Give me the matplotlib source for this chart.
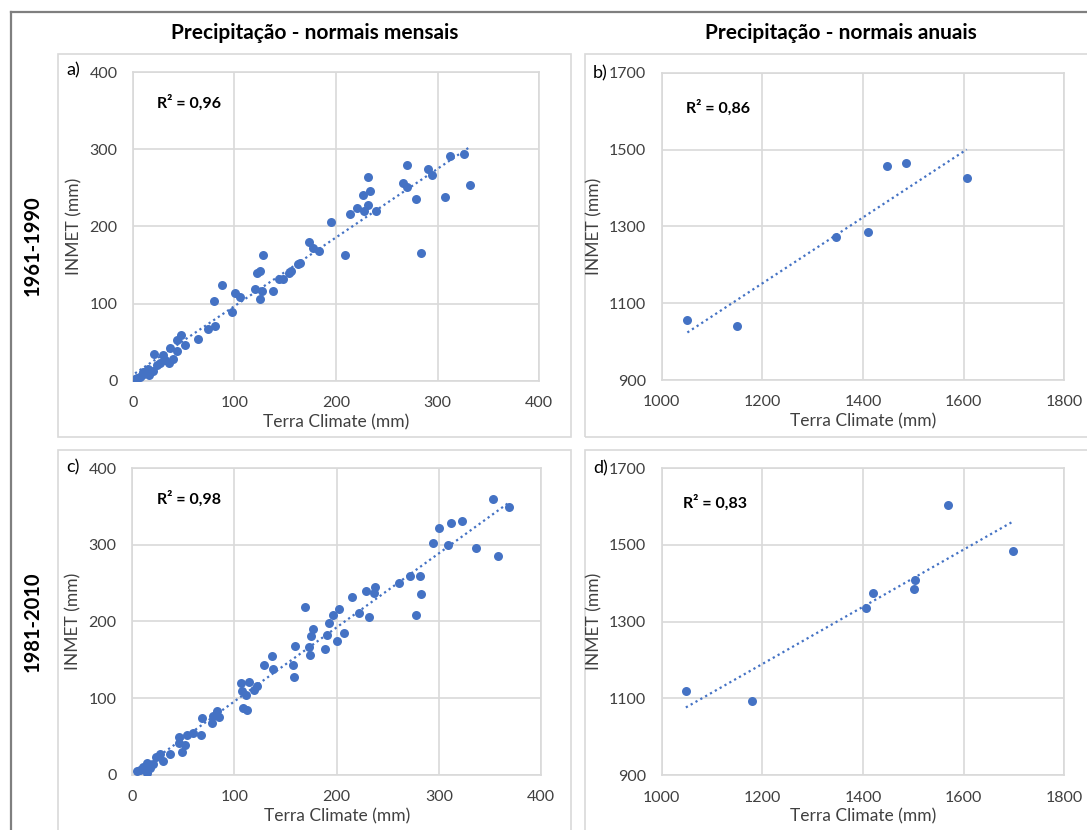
import numpy as np
import matplotlib
matplotlib.use("Agg")
import matplotlib.pyplot as plt
from matplotlib.patches import Rectangle
from matplotlib.lines import Line2D

plt.rcParams['font.family'] = ['Lato', 'DejaVu Sans']

# dados (mm)
tc_mensal_6190 = [325.8, 312.4, 332.0, 270.0, 290.2, 294.1, 231.4, 266.0, 270.0, 233.3,
                  226.8, 307.2, 278.4, 231.4, 220.3, 213.7, 227.5, 239.2, 195.4, 208.5,
                  283.7, 173.9, 177.8, 183.7, 164.7, 162.7, 155.6, 154.2, 147.7, 144.4,
                  128.1, 122.2, 124.8, 120.3, 126.8, 124.8, 137.9, 100.7, 105.2, 88.2,
                  79.7, 97.4, 81.0, 73.9, 64.1, 47.1, 43.8, 51.6, 36.6, 43.1,
                  20.9, 30.1, 39.9, 35.3, 26.8, 23.5, 15.4, 13.7, 19.6, 8.8,
                  3.9, 2.3, 7.2, 16.3, 10.5, 31.7]
inmet_mensal_6190 = [293.9, 291.4, 253.4, 279.3, 274.1, 266.3, 264.6, 256.8, 250.8, 246.4,
                     241.2, 237.8, 235.2, 227.4, 224.0, 216.2, 219.6, 220.5, 205.8, 162.6,
                     166.0, 179.9, 172.1, 168.6, 153.0, 151.3, 141.8, 140.1, 132.3, 131.4,
                     163.4, 140.1, 141.8, 119.3, 116.7, 106.4, 116.7, 113.3, 108.1, 123.6,
                     102.9, 89.1, 70.9, 67.4, 54.5, 59.7, 52.7, 46.7, 42.4, 38.0,
                     34.6, 32.9, 28.5, 22.5, 22.5, 19.9, 15.6, 10.4, 12.1, 6.9,
                     3.5, 1.7, 5.2, 7.4, 11.7, 26.8]

tc_mensal_8110 = [353.1, 368.7, 299.7, 311.4, 322.5, 294.5, 308.8, 336.2, 357.7, 261.2,
                  271.7, 281.4, 282.7, 277.5, 215.0, 228.7, 236.5, 237.8, 168.7, 202.6,
                  196.7, 221.5, 231.9, 192.8, 176.5, 174.6, 190.2, 207.2, 200.7, 188.3,
                  159.0, 172.6, 173.9, 136.8, 129.0, 138.1, 157.7, 158.3, 106.8, 114.0,
                  107.5, 111.4, 119.2, 121.8, 108.8, 112.1, 82.7, 79.5, 68.4, 84.7,
                  78.2, 59.3, 67.8, 53.4, 46.3, 52.1, 45.6, 48.9, 37.1, 27.4,
                  30.6, 23.5, 20.8, 14.3, 11.1, 15.0, 4.6, 7.8, 17.6]
inmet_mensal_8110 = [359.6, 349.6, 321.7, 328.7, 331.3, 302.6, 300.0, 295.7, 285.7, 250.0,
                     258.7, 259.6, 235.7, 207.8, 232.2, 239.1, 236.5, 244.3, 218.3, 216.5,
                     207.8, 210.4, 205.2, 197.4, 190.4, 180.9, 181.7, 184.3, 173.9, 164.3,
                     168.3, 167.0, 156.5, 154.8, 142.6, 138.3, 142.6, 127.4, 119.1, 120.9,
                     109.6, 103.5, 110.4, 115.7, 87.0, 84.3, 83.5, 76.5, 73.9, 74.8,
                     67.0, 53.9, 51.3, 51.3, 49.6, 38.3, 40.9, 29.6, 27.0, 27.0,
                     18.3, 22.6, 13.9, 14.8, 10.4, 2.6, 4.3, 6.1, 8.3]

tc_anual_6190 = [1051, 1150, 1346, 1409, 1448, 1485, 1606]
inmet_anual_6190 = [1057, 1041, 1271, 1285, 1458, 1464, 1425]

tc_anual_8110 = [1048, 1179, 1405, 1420, 1503, 1501, 1569, 1699]
inmet_anual_8110 = [1119, 1093, 1335, 1375, 1409, 1384, 1603, 1484]

r2_labels = ['R² = 0,96', 'R² = 0,86', 'R² = 0,98', 'R² = 0,83']
painel_labels = ['a)', 'b)', 'c)', 'd)']
col_titulos = ['Precipitação - normais mensais', 'Precipitação - normais anuais']
row_titulos = ['1961-1990', '1981-2010']

W, H = 1087, 830
AZUL = '#4472C4'
CINZA = '#d9d9d9'
TXT = '#404040'

fig = plt.figure(figsize=(W / 100, H / 100), dpi=100)


def fx(x):
    return x / W


def fy(y):
    return 1 - y / H


def add_box(x0, y0, x1, y1, color, lw):
    fig.add_artist(Rectangle((fx(x0), fy(y1)), fx(x1) - fx(x0), fy(y0) - fy(y1),
                             transform=fig.transFigure, fill=False, edgecolor=color,
                             linewidth=lw, zorder=0))


# moldura externa
fig.add_artist(Line2D([fx(11), fx(11)], [fy(12), fy(H + 5)], transform=fig.transFigure,
                      color='#7f7f7f', lw=1.6))
fig.add_artist(Line2D([fx(11), fx(W + 5)], [fy(12), fy(12)], transform=fig.transFigure,
                      color='#7f7f7f', lw=1.6))

# caixas dos painéis
add_box(58, 54, 571, 437, CINZA, 1.2)
add_box(585, 54, W + 10, 437, CINZA, 1.2)
add_box(58, 450, 571, H + 10, CINZA, 1.2)
add_box(585, 450, W + 10, H + 10, CINZA, 1.2)

paineis = [
    (tc_mensal_6190, inmet_mensal_6190, (132.7, 72.3, 539.3, 380.7), (0, 400), (0, 400), 100, 100),
    (tc_anual_6190, inmet_anual_6190, (661.7, 72.7, 1064.3, 380.0), (1000, 1800), (900, 1700), 200, 200),
    (tc_mensal_8110, inmet_mensal_8110, (132.0, 468.0, 541.3, 774.7), (0, 400), (0, 400), 100, 100),
    (tc_anual_8110, inmet_anual_8110, (661.7, 468.0, 1064.3, 775.3), (1000, 1800), (900, 1700), 200, 200),
]
r2_pos = [(157, 103), (686, 108), (157, 499), (683, 503)]
lab_pos = [(66, 70), (593, 73), (66, 467), (593, 468)]

for i, (xs, ys, (x0, y0, x1, y1), xlim, ylim, dx, dy) in enumerate(paineis):
    ax = fig.add_axes([fx(x0), fy(y1), fx(x1) - fx(x0), fy(y0) - fy(y1)])
    xs = np.array(xs)
    ys = np.array(ys)
    ax.scatter(xs, ys, s=42, color=AZUL, zorder=3, linewidths=0)
    a, b = np.polyfit(xs, ys, 1)
    xt = np.array([xs.min(), xs.max()])
    ax.plot(xt, a * xt + b, linestyle=(0, (1, 1.5)), color=AZUL, lw=1.6, zorder=2)
    ax.set_xlim(*xlim)
    ax.set_ylim(*ylim)
    ax.set_xticks(np.arange(xlim[0], xlim[1] + 1, dx))
    ax.set_yticks(np.arange(ylim[0], ylim[1] + 1, dy))
    ax.grid(True, color=CINZA, lw=1.2)
    ax.set_axisbelow(True)
    for sp in ax.spines.values():
        sp.set_color(CINZA)
        sp.set_linewidth(1.2)
    ax.tick_params(length=0, labelsize=11.5, labelcolor=TXT, pad=11)
    ax.set_xlabel('Terra Climate (mm)', fontsize=12.5, color=TXT, labelpad=3)
    ax.set_ylabel('INMET (mm)', fontsize=12.5, color=TXT, labelpad=5)

    fig.text(fx(r2_pos[i][0]), fy(r2_pos[i][1]), r2_labels[i], fontsize=11.5,
             fontweight='bold', color='black', va='center', ha='left')
    fig.text(fx(lab_pos[i][0]), fy(lab_pos[i][1]), painel_labels[i], fontsize=13,
             color='black', va='center', ha='left')

fig.text(fx(315), fy(33), col_titulos[0], fontsize=15, fontweight='bold', ha='center', va='center')
fig.text(fx(841), fy(33), col_titulos[1], fontsize=15, fontweight='bold', ha='center', va='center')
fig.text(fx(33), fy(246), row_titulos[0], fontsize=14.5, fontweight='bold', ha='center', va='center',
         rotation=90)
fig.text(fx(33), fy(622), row_titulos[1], fontsize=14.5, fontweight='bold', ha='center', va='center',
         rotation=90)

fig.savefig('out.png', dpi=100, facecolor='white')
